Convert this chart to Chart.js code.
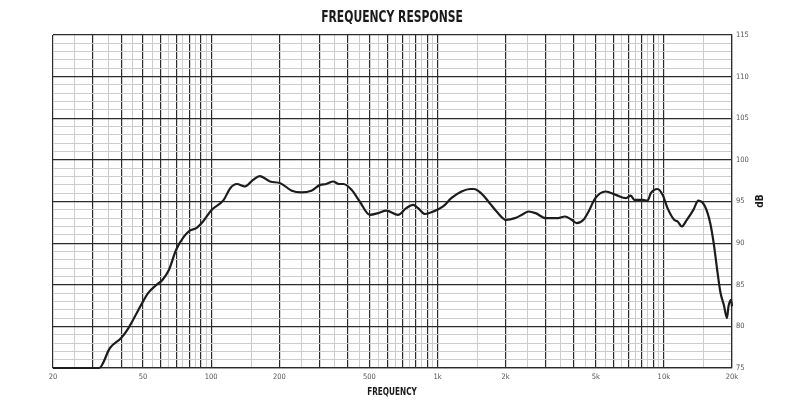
<!DOCTYPE html>
<html>
<head>
<meta charset="utf-8">
<script src="https://cdn.jsdelivr.net/npm/chart.js@4.4.1/dist/chart.umd.min.js"></script>
<style>
  html, body { margin: 0; padding: 0; background: #fff; }
  #wrap { width: 798px; height: 419px; }
</style>
</head>
<body>
<div id="wrap"><canvas id="chart-fr" width="798" height="419"></canvas></div>
<script>
// Data (frekuensi Hz -> level dB)
const freqs = [
  20, 32, 35.7, 40, 43.1, 46.9, 50, 52.6, 57.4, 61, 65.1, 70, 75.9, 80.4, 86, 92,
  100.6, 113.6, 121.4, 129.7, 141, 153, 164, 182, 202, 227, 250, 277, 303, 322,
  346, 366, 384, 417, 453, 502, 546, 594, 669, 727, 781, 821, 880, 958, 1058,
  1150, 1277, 1392, 1449, 1556, 1701, 1823, 2010, 2197, 2360, 2525, 2710, 3015,
  3409, 3651, 3913, 4120, 4415, 4650, 4980, 5530, 6130, 6800, 7150, 7400, 8050,
  8470, 8760, 9370, 9870, 10380, 11100, 11510, 12000, 12630, 13500, 14200,
  15200, 16030, 16600, 17200, 17800, 18400, 19000, 19300, 19800, 20000,
];
const levels = [
  75.0, 75.0, 77.4, 78.6, 79.8, 81.6, 83.0, 84.0, 85.0, 85.6, 86.8, 89.2, 90.8, 91.5, 91.8, 92.6,
  94.0, 95.2, 96.6, 97.1, 96.8, 97.6, 98.05, 97.4, 97.2, 96.3, 96.1, 96.3, 97.0, 97.1,
  97.4, 97.1, 97.1, 96.4, 95.0, 93.4, 93.6, 93.9, 93.4, 94.2, 94.6, 94.2, 93.5, 93.8, 94.4,
  95.4, 96.2, 96.5, 96.5, 96.0, 94.8, 93.8, 92.8, 93.0, 93.4, 93.8, 93.6, 93.0,
  93.0, 93.2, 92.8, 92.4, 92.8, 93.8, 95.4, 96.2, 95.8, 95.4, 95.7, 95.2, 95.2,
  95.1, 96.0, 96.5, 95.8, 94.2, 92.8, 92.6, 92.0, 92.8, 94.0, 95.1,
  94.4, 92.4, 90.0, 86.8, 84.0, 82.6, 81.0, 82.4, 83.2, 82.4,
];

// Label sumbu
const xLabelValues = [20, 50, 100, 200, 500, 1000, 2000, 5000, 10000, 20000];
const xLabelTexts = ["20", "50", "100", "200", "500", "1k", "2k", "5k", "10k", "20k"];
const yLabelValues = [75, 80, 85, 90, 95, 100, 105, 110, 115];

// Garis grid per dekade: angka bulat = garis tebal, setengah = garis tipis
const gridMantissas = [1, 1.5, 2, 2.5, 3, 3.5, 4, 4.5, 5, 5.5, 6, 6.5, 7, 7.5, 8, 8.5, 9, 9.5];
const decades = [10, 100, 1000, 10000];

const xGridValues = [];
decades.forEach(function (d) {
  gridMantissas.forEach(function (m) {
    const v = Math.round(m * d);
    if (v >= 20 && v <= 20000) xGridValues.push(v);
  });
});
const yGridValues = [];
for (let v = 75; v <= 115; v++) yGridValues.push(v);

const DARK = "#2b2b2b";
const LIGHT = "#cccccc";
const FONT = "'DejaVu Sans Condensed', 'Liberation Sans Narrow', sans-serif";

function isMajorFreq(v) {
  const p = Math.pow(10, Math.floor(Math.log10(v) + 1e-9));
  const m = v / p;
  return Math.abs(m - Math.round(m)) < 1e-6;
}

// Tulis teks yang dipadatkan ke samping (mirip font condensed di gambar)
function narrowText(c, text, x, y, sx) {
  c.save();
  c.translate(x, y);
  c.scale(sx, 1);
  c.fillText(text, 0, 0);
  c.restore();
}

// Plugin kecil untuk judul dan teks sumbu
const textPlugin = {
  id: "texts",
  afterDraw: function (chart) {
    const c = chart.ctx;
    c.save();
    c.fillStyle = "#1a1a1a";
    c.textAlign = "center";
    c.textBaseline = "middle";
    c.font = "bold 15px " + FONT;
    narrowText(c, "FREQUENCY RESPONSE", 392, 18, 0.8);
    c.font = "bold 11px " + FONT;
    narrowText(c, "FREQUENCY", 392, 392, 0.74);
    c.translate(760, 201);
    c.rotate(-Math.PI / 2);
    c.font = "bold 10px " + FONT;
    c.fillText("dB", 0, 0);
    c.restore();
  },
};

const tickFont = { family: FONT, size: 7.5 };

new Chart(document.getElementById("chart-fr"), {
  type: "line",
  data: {
    datasets: [
      {
        label: "Frequency response",
        data: freqs.map(function (f, i) { return { x: f, y: levels[i] }; }),
        borderColor: "#1c1c1c",
        borderWidth: 2.2,
        pointRadius: 0,
        tension: 0.4,
        cubicInterpolationMode: "monotone",
        clip: 4,
      },
    ],
  },
  options: {
    responsive: false,
    animation: false,
    layout: { padding: { left: 53, top: 35, right: 0, bottom: 0 } },
    plugins: {
      legend: { display: false },
      title: { display: false },
      tooltip: { enabled: false },
    },
    scales: {
      x: {
        type: "logarithmic",
        position: "bottom",
        min: 20,
        max: 20000,
        afterBuildTicks: function (scale) {
          scale.ticks = xGridValues.map(function (v) { return { value: v }; });
        },
        afterFit: function (scale) { scale.height = 51; },
        grid: {
          drawTicks: false,
          color: function (ctx) { return ctx.tick && isMajorFreq(ctx.tick.value) ? DARK : LIGHT; },
          lineWidth: function (ctx) { return ctx.tick && isMajorFreq(ctx.tick.value) ? 1.2 : 1; },
        },
        border: { display: true, color: DARK, width: 1.2 },
        ticks: {
          autoSkip: false,
          maxRotation: 0,
          padding: 5,
          color: "#555",
          font: tickFont,
          callback: function (value) {
            const i = xLabelValues.indexOf(Math.round(value));
            return i >= 0 ? xLabelTexts[i] : "";
          },
        },
      },
      y: {
        type: "linear",
        position: "right",
        min: 75,
        max: 115,
        afterBuildTicks: function (scale) {
          scale.ticks = yGridValues.map(function (v) { return { value: v }; });
        },
        afterFit: function (scale) { scale.width = 66; },
        grid: {
          drawTicks: false,
          color: function (ctx) { return ctx.tick && ctx.tick.value % 5 === 0 ? DARK : LIGHT; },
          lineWidth: function (ctx) { return ctx.tick && ctx.tick.value % 5 === 0 ? 1.2 : 1; },
        },
        border: { display: true, color: DARK, width: 1.2 },
        ticks: {
          autoSkip: false,
          padding: 4,
          color: "#555",
          font: tickFont,
          callback: function (value) {
            return yLabelValues.indexOf(value) >= 0 ? String(value) : "";
          },
        },
      },
    },
  },
  plugins: [textPlugin],
});
</script>
</body>
</html>
